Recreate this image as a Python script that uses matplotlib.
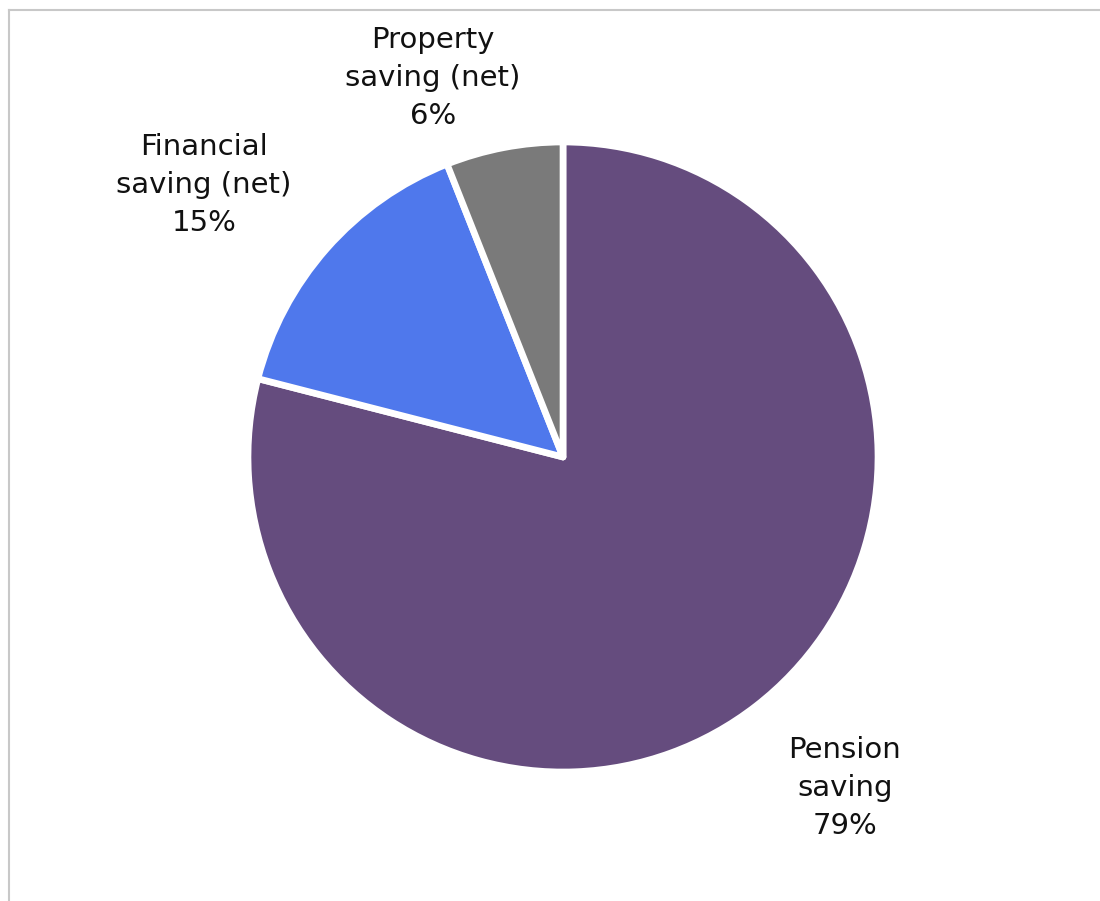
import matplotlib as mpl
mpl.use('Agg')
import matplotlib.pyplot as plt
from matplotlib.lines import Line2D

labels = ['Pension\nsaving', 'Financial\nsaving (net)', 'Property\nsaving (net)']
shares = [79, 15, 6]
colors = ['#654c7e', '#4f78ec', '#7a7a7a']

# label placement in pie data units (radius = 1)
label_pos = [(0.895, -1.051), (-1.14, 0.863), (-0.413, 1.203)]

fig = plt.figure(figsize=(11, 9.01), dpi=100)
fig.patch.set_facecolor('white')

# thin grey frame on the left and top, as in the source
fig.add_artist(Line2D([9/1100, 9/1100], [0, 1 - 10/901], transform=fig.transFigure,
                      color='#c8c8c8', lw=1.5))
fig.add_artist(Line2D([9/1100, 1], [1 - 10/901, 1 - 10/901], transform=fig.transFigure,
                      color='#c8c8c8', lw=1.5))

ax = fig.add_axes([248/1100, (901-772)/901, 630/1100, 630/901])
wedges, _ = ax.pie(shares, colors=colors, startangle=90, counterclock=False, radius=1,
                   wedgeprops=dict(edgecolor='white', linewidth=4.8))
for w in wedges:
    w.set_joinstyle('round')
ax.set_xlim(-1, 1)
ax.set_ylim(-1, 1)
ax.set_aspect('equal')
ax.axis('off')

for lab, v, (x, y) in zip(labels, shares, label_pos):
    ax.text(x, y, lab + '\n' + str(v) + '%', ha='center', va='center',
            fontsize=21, color='#111111', linespacing=1.45, clip_on=False,
            family='DejaVu Sans')

plt.savefig('out.png', dpi=100)
plt.close()
